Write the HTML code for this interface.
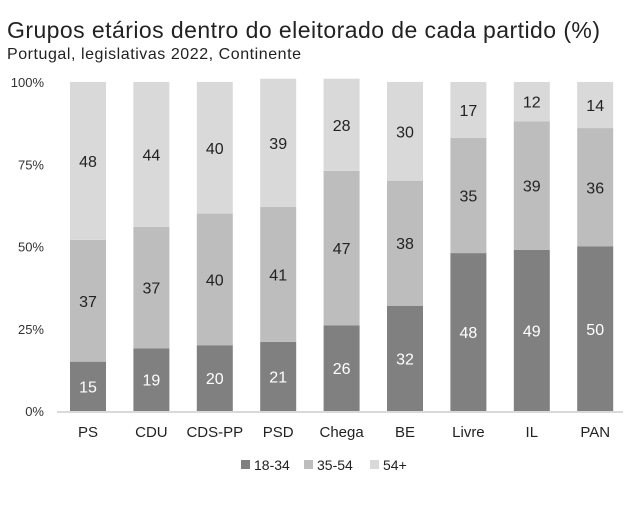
<!DOCTYPE html>
<html><head><meta charset="utf-8"><style>
body{margin:0;background:#fff;font-family:"Liberation Sans",sans-serif;}
svg text{font-family:"Liberation Sans",sans-serif;}
</style></head><body>
<svg width="639" height="504" xmlns="http://www.w3.org/2000/svg" id="chart">
<text x="7" y="38" font-size="23" fill="#222" textLength="593">Grupos etários dentro do eleitorado de cada partido (%)</text>
<text x="7" y="59" font-size="16" fill="#222" textLength="294">Portugal, legislativas 2022, Continente</text>
<g id="yaxis"></g><g id="bars"></g><g id="xaxis"></g><g id="legend"></g>
</svg>
<script>
const categories=["PS","CDU","CDS-PP","PSD","Chega","BE","Livre","IL","PAN"];
const young=[15,19,20,21,26,32,48,49,50];
const middle=[37,37,40,41,47,38,35,39,36];
const old=[48,44,40,39,28,30,17,12,14];
const yTicks=[0,25,50,75,100];
const seriesNames=["18-34","35-54","54+"];
const colors=["#808080","#bdbdbd","#d9d9d9"];
const NS="http://www.w3.org/2000/svg";
const y0=411,y1=82;
function y(v){return y0-(v/100)*(y0-y1);}
function xc(i){return 88+i*63.4;}
function mk(t,a,p){const e=document.createElementNS(NS,t);for(const k in a)e.setAttribute(k,a[k]);p.appendChild(e);return e;}
const ya=document.getElementById('yaxis');
yTicks.forEach(t=>{const e=mk('text',{x:44,y:y(t)+5,'font-size':13,fill:'#333','text-anchor':'end'},ya);e.textContent=t+'%';

});
const xa=document.getElementById('xaxis');
const ax=mk('line',{x1:57,x2:623,y1:y0+1,y2:y0+1,stroke:'#d9d9d9','stroke-width':2},xa);


const bg=document.getElementById('bars');
const series=[young,middle,old];
categories.forEach((c,i)=>{let base=0;const w=36;
series.forEach((s,k)=>{const v=s[i];const top=base+v;
const r=mk('rect',{x:xc(i)-w/2,y:y(top),width:w,height:y(base)-y(top),fill:colors[k]},bg);


const t=mk('text',{x:xc(i),y:y(base+v/2)+6,'font-size':16,'text-anchor':'middle',fill:k==0?'#fff':'#222'},bg);t.textContent=v;


base=top;});
const l=mk('text',{x:xc(i),y:437,'font-size':15,'text-anchor':'middle',fill:'#222'},xa);l.textContent=c;

});
const lg=document.getElementById('legend');
const lx=[241,304,370];
seriesNames.forEach((n,k)=>{const r=mk('rect',{x:lx[k],y:460,width:9,height:9,fill:colors[k]},lg);


const t=mk('text',{x:lx[k]+13,y:470,'font-size':14,fill:'#222'},lg);t.textContent=n;

});
</script>
</body></html>
